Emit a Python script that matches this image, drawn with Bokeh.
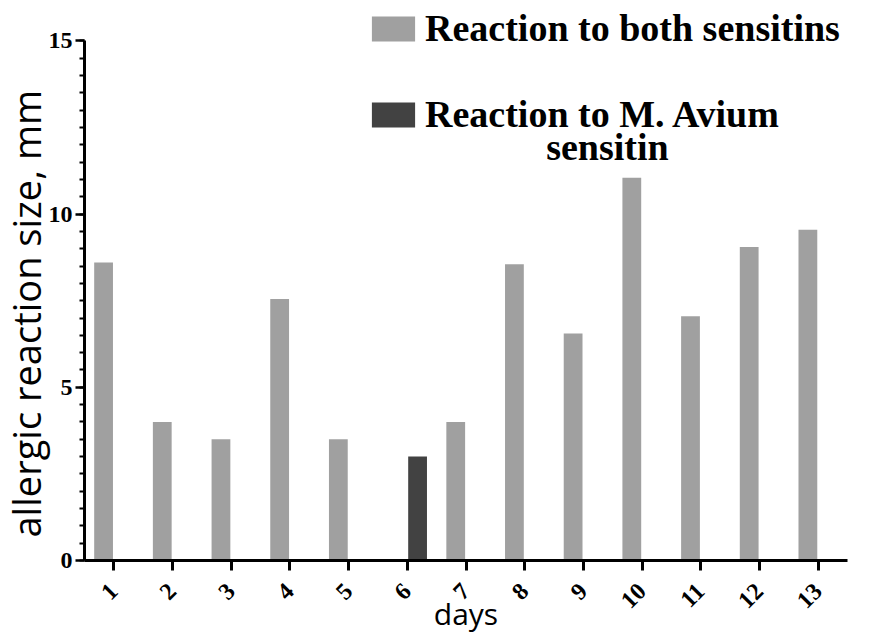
import math
from bokeh.plotting import figure
from bokeh.models import (Range1d, FixedTicker, SingleIntervalTicker, Legend,
                          LegendItem, ColumnDataSource, Label, Title)
from bokeh.transform import dodge
from bokeh.embed import file_html
from bokeh.resources import INLINE

# ---- data ----
days = list(range(1, 14))
both_days = [1, 2, 3, 4, 5, 7, 8, 9, 10, 11, 12, 13]
both_values = [8.6, 4.0, 3.5, 7.55, 3.5, 4.0, 8.55, 6.55, 11.05, 7.05, 9.05, 9.55]
avium_days = [6]
avium_values = [3.0]
series_labels = ["Reaction to both sensitins", "Reaction to M. Avium"]
series_label_cont = "sensitin"
x_label = "days"
y_label = "allergic reaction size, mm"

LIGHT = "#a0a0a0"
DARK = "#424242"

# frame: y 0..15 spans 520.5 px; the frame reaches the top edge to leave room for the legend
Y_PX = 520.5 / 15
p = figure(width=883, height=637, output_backend="svg", toolbar_location=None,
           x_range=Range1d(0.5, 13.5), y_range=Range1d(0, 561 / Y_PX),
           min_border_left=84, min_border_right=36, min_border_top=0,
           min_border_bottom=76)

src_both = ColumnDataSource(dict(day=both_days, value=both_values))
src_avium = ColumnDataSource(dict(day=avium_days, value=avium_values))

r1 = p.vbar(x=dodge("day", -0.175, range=p.x_range), top="value", width=0.32,
            source=src_both, fill_color=LIGHT, line_color=None)
r2 = p.vbar(x=dodge("day", 0.175, range=p.x_range), top="value", width=0.32,
            source=src_avium, fill_color=DARK, line_color=None)

p.grid.visible = False
p.outline_line_color = None
p.background_fill_color = "white"
p.border_fill_color = "white"

# x axis
xa = p.xaxis[0]
xa.ticker = FixedTicker(ticks=days)
xa.major_label_orientation = math.pi / 4
xa.major_label_text_font = "Liberation Serif"
xa.major_label_text_font_style = "bold"
xa.major_label_text_font_size = "24px"
xa.major_label_text_color = "black"
xa.major_tick_out = 10
xa.major_tick_in = 0
xa.minor_tick_out = 0
xa.major_tick_line_width = 3
xa.axis_line_width = 3
xa.axis_line_color = "black"
xa.major_tick_line_color = "black"
xa.major_label_standoff = 17
xa.axis_label = x_label
xa.axis_label_text_font = "Open Sans"
xa.axis_label_text_font_style = "normal"
xa.axis_label_text_font_size = "30px"
xa.axis_label_text_color = "black"
xa.axis_label_standoff = -25

# y axis
ya = p.yaxis[0]
ya.bounds = (0, 15)
ya.ticker = SingleIntervalTicker(interval=5, num_minor_ticks=10)
ya.major_label_text_font = "Liberation Serif"
ya.major_label_text_font_style = "bold"
ya.major_label_text_font_size = "24px"
ya.major_label_text_color = "black"
ya.major_tick_out = 9
ya.major_tick_in = 0
ya.minor_tick_out = 5
ya.minor_tick_in = 0
ya.major_tick_line_width = 2.5
ya.minor_tick_line_width = 2
ya.minor_tick_line_color = "black"
ya.major_tick_line_color = "black"
ya.axis_line_width = 3
ya.axis_line_color = "black"
ya.major_label_standoff = 3

# y axis title as a side title so it can be offset like the reference
ytitle = Title(text=y_label, align="left", offset=23, standoff=-12,
               text_font="Open Sans", text_font_style="normal",
               text_font_size="38px", text_color="black")
p.add_layout(ytitle, "left")

legend = Legend(items=[LegendItem(label=series_labels[0], renderers=[r1]),
                       LegendItem(label=series_labels[1], renderers=[r2])],
                location=(282, 424), orientation="vertical",
                border_line_color=None, background_fill_alpha=0,
                label_text_font="Liberation Serif", label_text_font_style="bold",
                label_text_font_size="38px", label_text_color="black",
                glyph_width=54, glyph_height=31, label_standoff=5,
                spacing=42, padding=0, margin=0)
p.add_layout(legend)

cont = Label(x=9.41, y=11.95, text=series_label_cont, text_align="center",
             text_baseline="alphabetic", text_font="Liberation Serif",
             text_font_style="bold", text_font_size="38px", text_color="black")
p.add_layout(cont)

open("out.html", "w").write(file_html(p, INLINE))
